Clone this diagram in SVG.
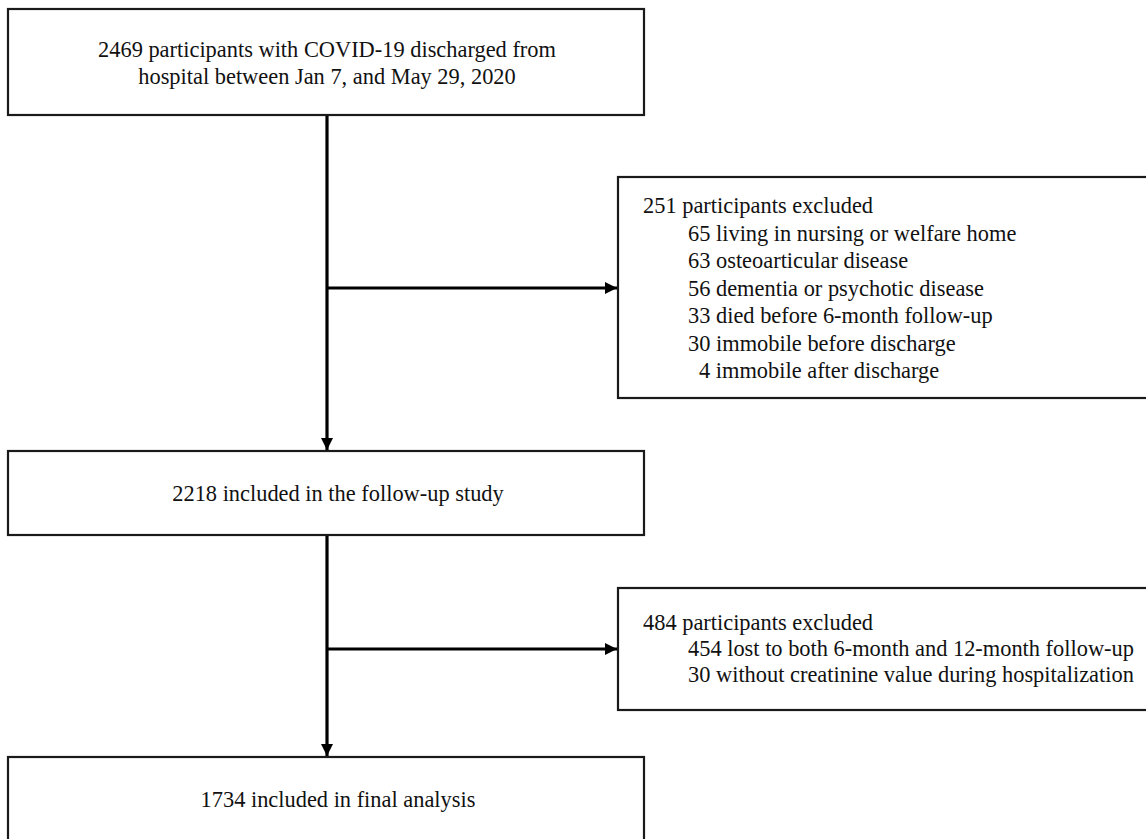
<svg xmlns="http://www.w3.org/2000/svg" width="1146" height="839" viewBox="0 0 1146 839">
<style>
.box{fill:#fff;stroke:#1a1a1a;stroke-width:2.2}
.t{font-family:"Liberation Serif","Times New Roman",serif;font-size:22.4px;fill:#111}
.c{text-anchor:middle}
.con{stroke:#000;stroke-width:3.2;fill:none}
</style>
<defs>
<marker id="ah" markerUnits="userSpaceOnUse" markerWidth="12" markerHeight="12" refX="12" refY="6" orient="auto">
<path d="M0,0 L12,6 L0,12 z" fill="#000"/>
</marker>
</defs>
<rect width="1146" height="839" fill="#fff"/>
<g id="connectors">
<line class="con" x1="327" y1="115" x2="327" y2="450" marker-end="url(#ah)"/>
<line class="con" x1="327" y1="288" x2="617" y2="288" marker-end="url(#ah)"/>
<line class="con" x1="327" y1="535" x2="327" y2="756" marker-end="url(#ah)"/>
<line class="con" x1="327" y1="649" x2="617" y2="649" marker-end="url(#ah)"/>
</g>
<g id="n1">
<rect class="box" x="8" y="9" width="636" height="106"/>
<text class="t c" x="327" y="57">2469 participants with COVID-19 discharged from</text>
<text class="t c" x="327" y="84">hospital between Jan 7, and May 29, 2020</text>
</g>
<g id="ex1">
<rect class="box" x="618" y="177" width="540" height="221"/>
<text class="t" x="643" y="213">251 participants excluded</text>
<text class="t" x="688" y="240.5">65 living in nursing or welfare home</text>
<text class="t" x="688" y="268">63 osteoarticular disease</text>
<text class="t" x="688" y="295.5">56 dementia or psychotic disease</text>
<text class="t" x="688" y="323">33 died before 6-month follow-up</text>
<text class="t" x="688" y="350.5">30 immobile before discharge</text>
<text class="t" x="699" y="378">4 immobile after discharge</text>
</g>
<g id="n2">
<rect class="box" x="8" y="451" width="636" height="84"/>
<text class="t c" x="338" y="501">2218 included in the follow-up study</text>
</g>
<g id="ex2">
<rect class="box" x="618" y="588" width="540" height="122"/>
<text class="t" x="643" y="630">484 participants excluded</text>
<text class="t" x="688" y="656">454 lost to both 6-month and 12-month follow-up</text>
<text class="t" x="688" y="682">30 without creatinine value during hospitalization</text>
</g>
<g id="n3">
<rect class="box" x="8" y="757" width="636" height="100"/>
<text class="t c" x="338" y="807">1734 included in final analysis</text>
</g>
</svg>
